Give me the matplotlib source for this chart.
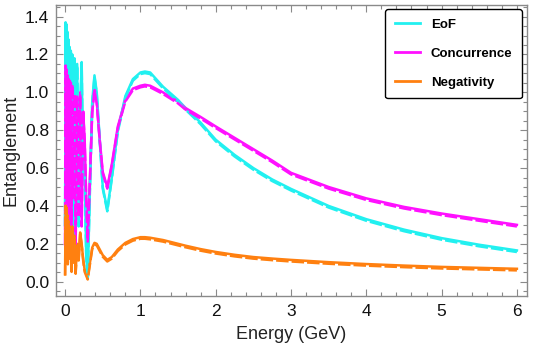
import matplotlib
matplotlib.use("Agg")
import matplotlib.pyplot as plt
import matplotlib.transforms as mtransforms
from matplotlib.ticker import MultipleLocator
import numpy as np

plt.rcParams['font.family'] = ['Liberation Sans', 'DejaVu Sans']

# Energy (GeV)
energy = [0.000, 0.006, 0.012, 0.018, 0.024, 0.030, 0.036, 0.044, 0.052, 0.060,
          0.068, 0.076, 0.086, 0.096, 0.110, 0.125, 0.140, 0.160, 0.180, 0.200,
          0.220, 0.240, 0.260, 0.280, 0.300,
          0.330, 0.360, 0.390, 0.420, 0.460, 0.500, 0.560, 0.620, 0.700, 0.800,
          0.900, 1.000, 1.060, 1.130, 1.300, 1.500, 1.600, 1.800, 2.000, 2.250,
          2.500, 2.750, 3.000, 3.500, 4.000, 4.500, 5.000, 5.500, 6.000]

eof = [0.30, 1.37, 0.60, 1.36, 0.45, 1.32, 0.50, 1.28, 0.70, 1.24,
       0.35, 1.22, 0.45, 1.20, 0.30, 1.18, 0.25, 1.15, 0.30, 0.90,
       1.16, 0.55, 0.60, 0.15, 0.02,
       0.50, 0.95, 1.09, 1.00, 0.75, 0.50, 0.38, 0.55, 0.80, 0.98,
       1.07, 1.105, 1.11, 1.105, 1.03, 0.96, 0.917, 0.84, 0.75, 0.67,
       0.60, 0.54, 0.49, 0.40, 0.33, 0.275, 0.23, 0.195, 0.165]

concurrence = [0.20, 1.15, 0.50, 1.13, 0.40, 1.10, 0.60, 1.08, 0.30, 1.07,
               0.55, 1.06, 0.25, 1.05, 0.45, 1.00, 0.20, 0.98, 0.35, 1.00,
               0.30, 0.90, 0.75, 0.45, 0.22,
               0.55, 0.90, 1.02, 0.95, 0.75, 0.58, 0.50, 0.62, 0.82, 0.96,
               1.02, 1.035, 1.04, 1.035, 1.00, 0.95, 0.917, 0.87, 0.82, 0.76,
               0.70, 0.64, 0.575, 0.50, 0.44, 0.395, 0.36, 0.33, 0.30]

negativity = [0.04, 0.41, 0.15, 0.40, 0.20, 0.36, 0.10, 0.33, 0.25, 0.30,
              0.12, 0.28, 0.06, 0.30, 0.10, 0.25, 0.05, 0.20, 0.12, 0.26,
              0.20, 0.12, 0.06, 0.04, 0.02,
              0.10, 0.18, 0.205, 0.20, 0.17, 0.14, 0.115, 0.13, 0.17, 0.205,
              0.225, 0.235, 0.235, 0.232, 0.22, 0.20, 0.19, 0.172, 0.157, 0.142,
              0.13, 0.122, 0.115, 0.103, 0.093, 0.085, 0.078, 0.073, 0.068]

series_names = ['EoF', 'Concurrence', 'Negativity']
series_colors = ['#22F0F0', '#FF10FF', '#FF8010']
xticks = [0, 1, 2, 3, 4, 5, 6]
yticks = [0.0, 0.2, 0.4, 0.6, 0.8, 1.0, 1.2, 1.4]

fig = plt.figure(figsize=(5.34, 3.49), dpi=100)
ax = fig.add_axes([0.105, 0.152, 0.882, 0.834])

shift = mtransforms.offset_copy(ax.transData, fig=fig, x=0, y=-1.6, units='dots')
all_vals = [eof, concurrence, negativity]
handles = []
for name, vals, col in zip(series_names, all_vals, series_colors):
    h, = ax.plot(energy, vals, color=col, lw=1.8, solid_joinstyle='round', label=name)
    handles.append(h)
for vals, col in zip(all_vals, series_colors):
    ax.plot(energy, vals, color=col, lw=1.8, ls=(0, (5, 1.2)), transform=shift)

ax.set_xlim(-0.12, 6.135)
ax.set_ylim(-0.0755, 1.462)
ax.set_xticks(xticks)
ax.set_yticks(yticks)
ax.set_xticklabels([str(t) for t in xticks])
ax.set_yticklabels([f"{t:.1f}" for t in yticks])
ax.xaxis.set_minor_locator(MultipleLocator(0.2))
ax.yaxis.set_minor_locator(MultipleLocator(0.05))

for sp in ax.spines.values():
    sp.set_color('#8a8a8a')
    sp.set_linewidth(1.0)
ax.tick_params(which='both', direction='in', top=True, right=True, colors='#8a8a8a',
               labelcolor='#111111', labelsize=12.5, width=0.8)
ax.tick_params(which='major', length=5)
ax.tick_params(which='minor', length=2.8)
ax.tick_params(axis='x', pad=6)
ax.tick_params(axis='y', pad=5)

ax.set_xlabel('Energy (GeV)', fontsize=13, color='#222222', labelpad=5)
ax.set_ylabel('Entanglement', fontsize=13, color='#222222', labelpad=4)

leg = ax.legend(handles=handles, loc='upper right',
                bbox_to_anchor=(522 / 534, 1 - 9 / 349), bbox_transform=fig.transFigure,
                borderaxespad=0, frameon=True, fancybox=True, edgecolor='black',
                framealpha=1, prop={'weight': 'bold', 'size': 9.5}, handlelength=1.9,
                labelspacing=1.27, borderpad=0.72, handletextpad=0.85)
leg.get_frame().set_linewidth(1.0)
for lh in leg.get_lines():
    lh.set_linewidth(2.0)

fig.savefig('out.png', dpi=100)
